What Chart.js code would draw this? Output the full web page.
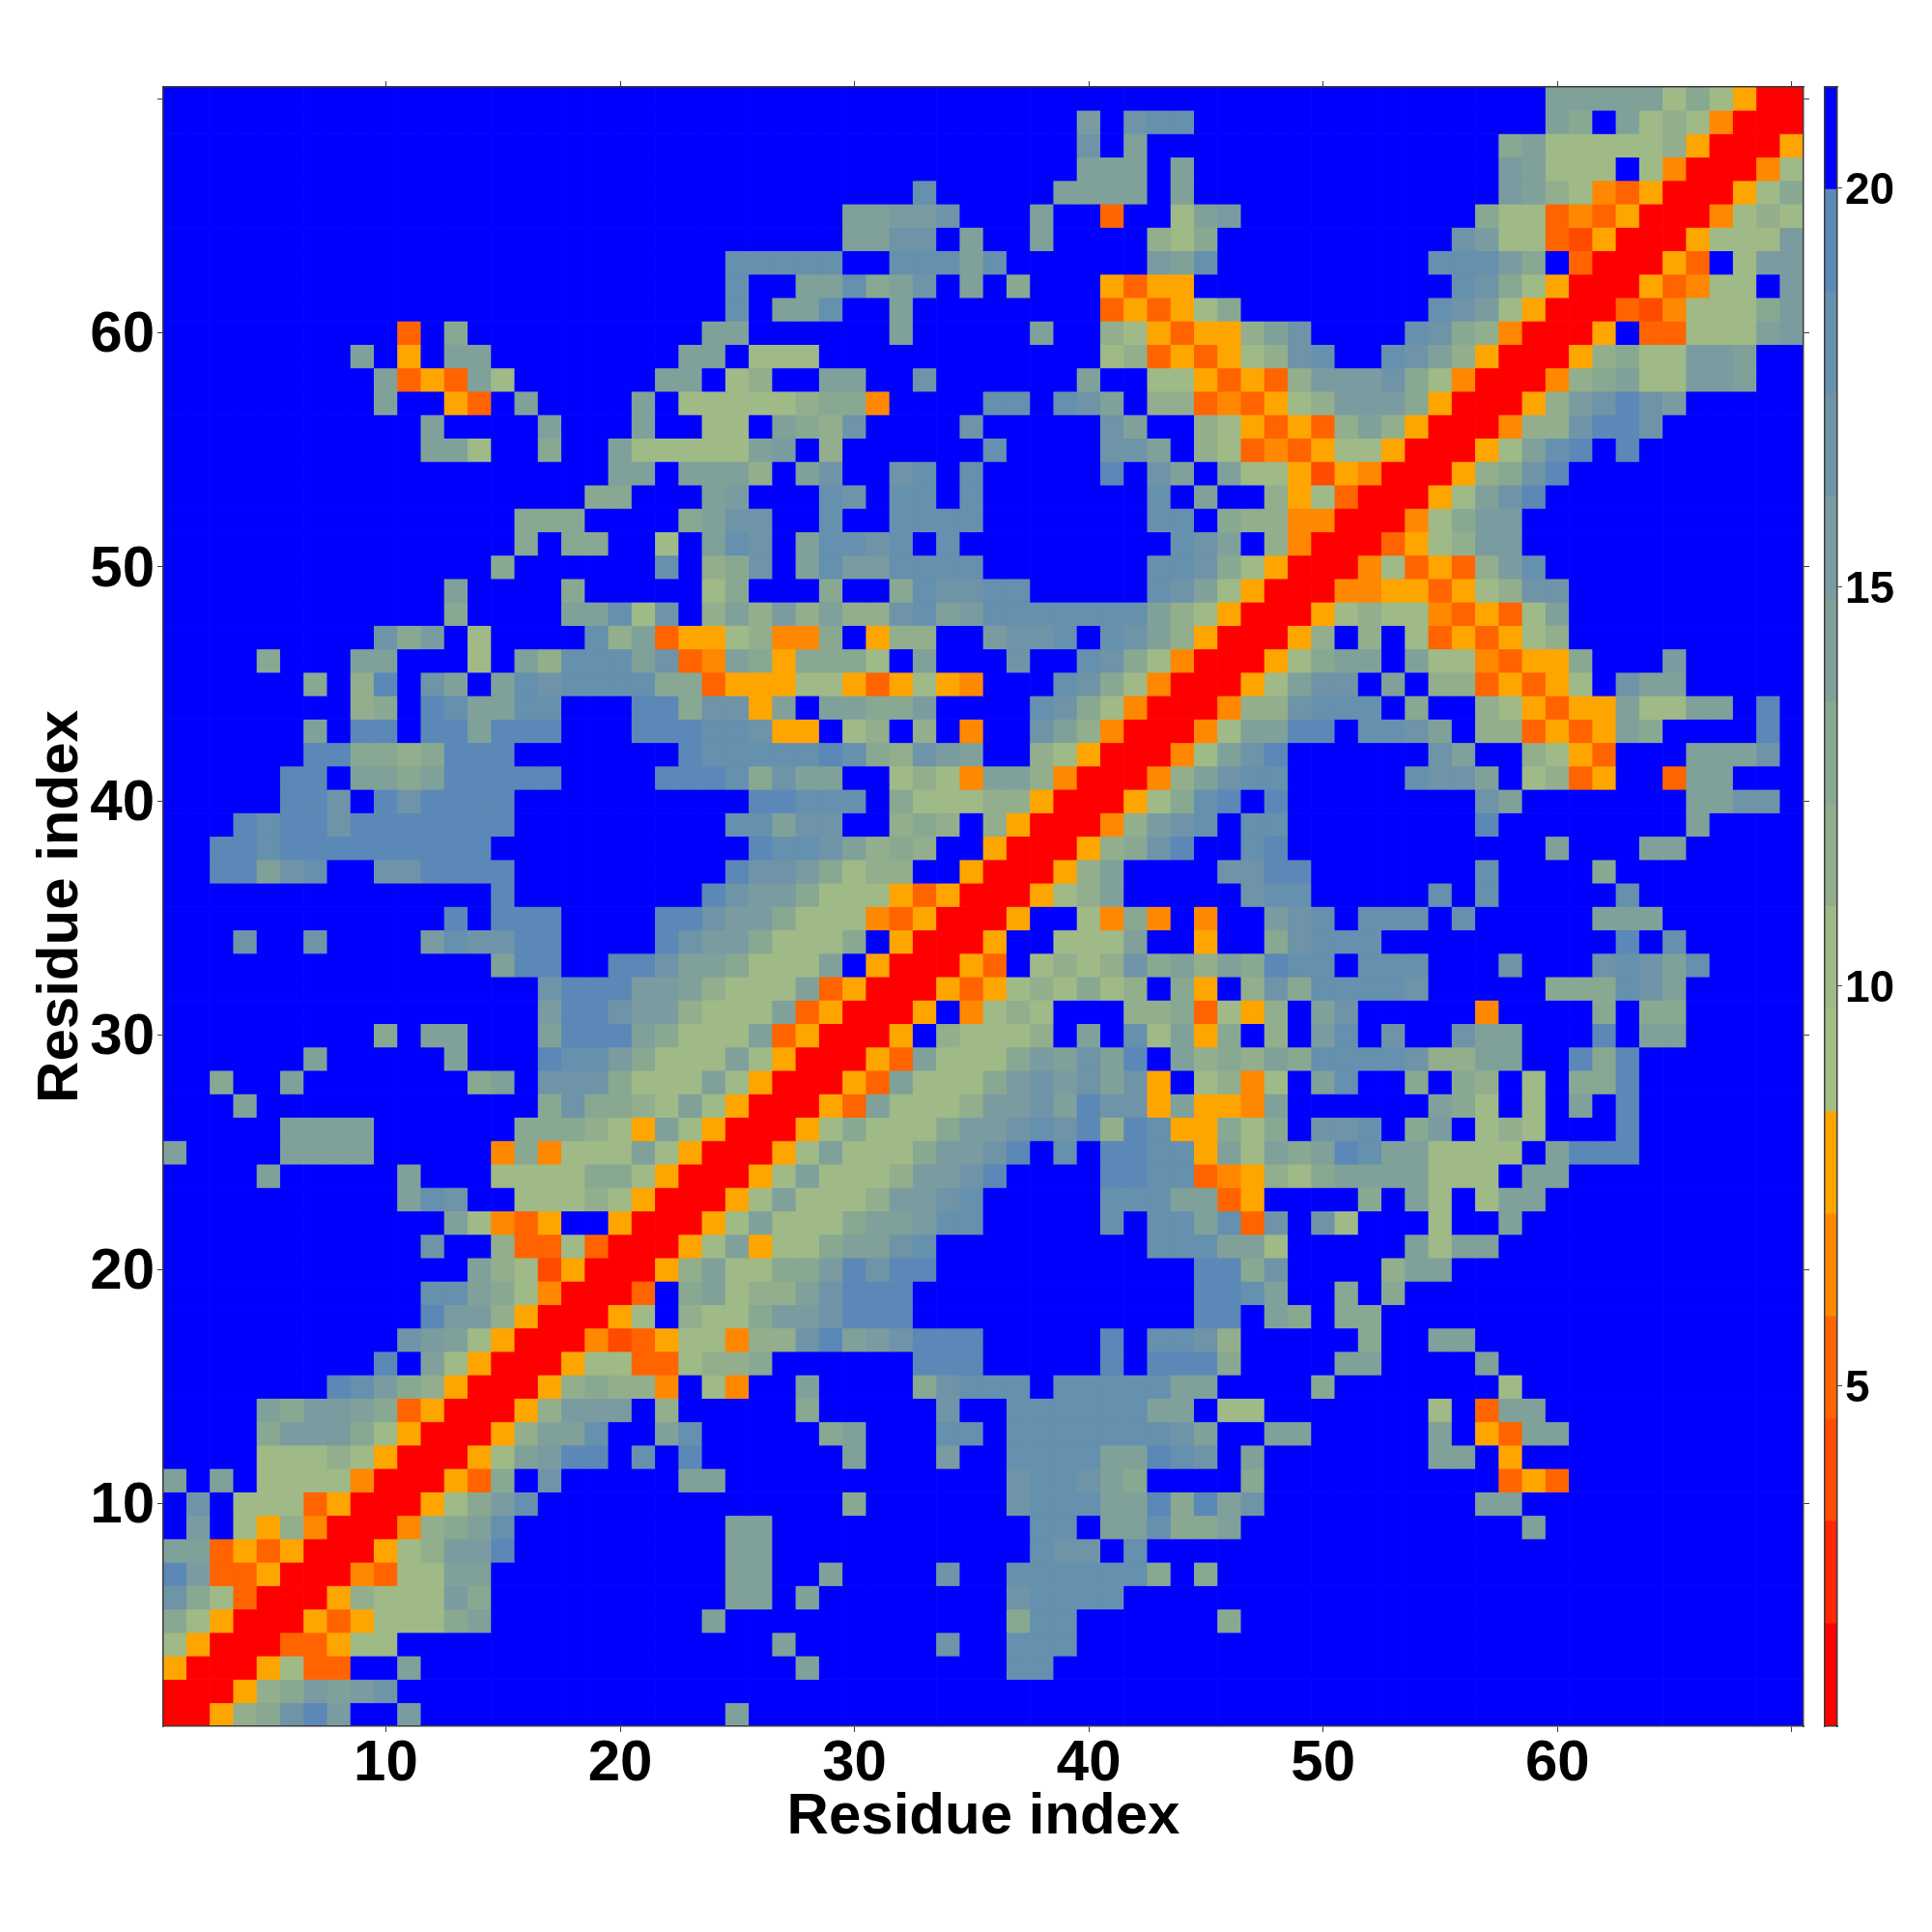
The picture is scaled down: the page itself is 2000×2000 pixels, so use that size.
<!DOCTYPE html>
<html>
<head>
<meta charset="utf-8">
<title>Residue contact map</title>
<script src="https://cdn.jsdelivr.net/npm/chart.js@4"></script>
<style>
  html, body { margin: 0; padding: 0; background: #fff; width: 2000px; height: 2000px; overflow: hidden; }
  canvas { position: absolute; top: 0; }
  #map { left: 0; }
  #bar { left: 1880px; }
</style>
</head>
<body>
<canvas id="map" width="1880" height="2000"></canvas>
<canvas id="bar" width="120" height="2000"></canvas>
<script>
// Distance band of each residue pair.
// First line is residue 70 on the y axis, last is residue 1. Blocks of ten residues.
// 0-9,a-e are colour bar bands counted from the bottom, '.' is the top (blue) band.
const contactRows = [
  '.......... .......... .......... .......... .......... .........a aaaa797500',
  '.......... .......... .......... .........b .cdd...... .........a 9.a7874000',
  '.......... .......... .......... .........c .a........ .......9a7 7777850005',
  '.......... .......... .......... .........a aa.a...... .......ba7 77.7400047',
  '.......... .......... .......... ..d.....aa aa.a...... .......ba8 7435000579',
  '.......... .......... .........a abbc...a.. 3..7ab.... ......9773 4350004787',
  '.......... .......... .........a acc.a..a.. ..879..... .....cb773 250005777b',
  '.......... .......... ....ddddd. .dddad.... ..bad..... ....dddb9. 300053.7bb',
  '.......... .......... ....d..aad 9ac.a.9... 5355...... .....dc975 00053477.b',
  '.......... .......... ....d.aad. .a........ 353579.... ....dcb750 003247779b',
  '.......... 3.9....... ...aa..... .a.....a.. 8753558ac. ...dc98400 05.33777ab',
  '........a. 5.aa...... ..aa.777.. .......... 78353578cd ..dca85000 58977bba..',
  '.........a 353a7..... .aa.78..aa ..c......a ..7753538b bbc9740004 89a77bba..',
  '.........a ..53.a.... a.77777899 4....dd.dc a.88343578 bbb9500058 bcecb.....',
  '.......... .a....a... a..77.a98c ....c..... ca..875353 8a85000488 ceec......',
  '.......... .aa7..9..a 77777ab.8. .....d.... cca.873435 77500057ad e.e.......',
  '.......... .........a a.aaa8.ac. .cd.d..... e.ca.a7752 54000589ce ..........',
  '.......... ........99 ...ab...dc .dd.d..... ..d.a..857 300057ace. ..........',
  '.......... .....999.. ..9acc..d. .dddd..... ..dd.98844 000479bb.. ..........',
  '.......... .....9.99. .7.adc.add cd.d...... ...dca.840 003578bb.. ..........',
  '.......... ....9..... .d.89c.adb bdddd..... ..ddc97500 0473538bd. ..........',
  '.......... ..a....9.. ...79...9. .9dccdd... ..dca75000 44553578cc ..........',
  '.......... ..9....aad 7c.8a8b8a8 8cdabddddd dda8750005 787743537a ..........',
  '.........c 9b.7....d8 a35578449. 588..bccd. dca8500058 .8.7353578 ..........',
  '....9...aa ...7.a8ddd ac34a95999 7.a...c..d c974000579 aa.a774355 9...b.....',
  '......9.8e .ca.adcddd d993555775 35754...dc 97400057ac c.a.883535 7.caa.....',
  '........89 .edaadd... ee9cc5a.aa 99b....dc9 74000488cd dd.9..8753 55a77aa.e.',
  '......a.ee .eeaeee... eeeddc55.7 8.8.4..ca8 400047aaee .ddca.8835 35a9....e.',
  '......ee99 89eee..... ..eddddded 98cba..875 00047ace.. ....ca..87 53...aaac.',
  '.....ee.aa 9aeeeee... .eeed9caa. .7874aa840 0048acdd.. ...dcca.78 35..3aa...',
  '.....eec.e ceeee..... .....eeddd .977788500 0579de.e.. ......ca.. .....aacc.',
  '...edeecee eeeee..... ....ddacc. .898.85000 48bcd.dd.. ......e... .....a....',
  '..eedeeeee eeee...... .....eddca 898..50005 89ce..de.. .........a ...aa.....',
  '..eeacd..c ceeee..... ....eccb97 88..500058 a....ccee. ......d... .9........',
  '.......... ....e..... ...ecbb977 7535000578 a.....cdd. ....d.d... ..d.......',
  '.......... ..e.eee... .eecbb9777 4350005..7 494.4..bcd .ddd.d.... .aaa......',
  '...c..c... .bdccee... .ecbb97779 .50005..77 7a..5..9cd dd........ ..e.d.....',
  '.......... ....aee..e ecaa9777a. 500053.787 8c9a8a9edd .ddd...c.. .cdcad....',
  '.......... ......ceee bba8777a35 0005357879 78.95.8c9d dddc.....9 99dca.....',
  '.......... ......beec bb8777a350 005.4787.. .8893758.a c.....4... .9.99.....',
  '.........9 .aa...aeee a9777a3500 05.87778.a .d7a59.8.b d.c..caa.. .e.aa.....',
  '......a... ..a...eddb 9777a75000 53a7779bac ae.a898a9d dddc88aa.. e9e.......',
  '..9..a.... ...9a.ccc9 777a750005 3a7779bcbc ac5.7847.a d..9.98.7. 99e.......',
  '...a...... ......9c99 87a7500053 a7778bbcae cc5a554a.. ....a97.7. a.e.......',
  '.....aaaa. .....99987 5a75000579 7779bbcdce 8ed55979.c cd.9b.787. ..e.......',
  'a....aaaa. ....494777 a7500057a7 779bbce.d. eedd5a7a9a edaa7777.a eee.......',
  '....a..... a...777799 7500057a77 78bbce.... eedd345879 aaaa777.aa ..........',
  '.......... adc..77787 500057a777 8bbcd..... dddaa35... .9.a7.7aa. ..........',
  '.......... ..a7435..5 00057a7779 aabdd..... d.ddad3c.c 7...7..a.. ..........',
  '.......... .c..833730 0057a5779a acd....... ..dddaa7.. ...a7aa... ..........',
  '.......... ...a872500 058a7799be cee....... ....ee9c.. ..8aa..... ..........',
  '.......... .dda974000 3.9a788ace ee........ ....eeda.. 9.9....... ..........',
  '.......... .ebb850005 7.8779bbce ee........ ....ee.a9. 99........ ..........',
  '.......... cba7500042 3577488cea bceee..... e.ddc8.... .9..aa.... ..........',
  '.........e .a75000577 337889.... ..eee..... e.eee9.... aa....a... ..........',
  '.......edb 9850005898 84.74..a.. ..9cddd.dd dddaa....9 .......7.. ..........',
  '....a9bba9 3500058bbb .8.....9.. ...c..dddd ddaa.77... ....7.3aa. ..........',
  '....9bbb97 500058aad. .ad.....9a ...dd.dddd dddca..aa. ....a.53aa ..........',
  '....777875 00057abee. d.e......a ...b..dddd aaedc.a... ....aa.5.. ..........',
  'a.a.777740 00539.c... ..aa...... ......cddc a9....9... .......353 ..........',
  '.c.7773500 0579bd.... .........9 ......cddd aae9eac... ......aa.. ..........',
  '.b.7584000 489ad..... ....aa.... .......dd. aad99a.... ........a. ..........',
  'aa35350005 78bbe..... ....aa.... .......dcc .d........ .......... ..........',
  'eb33500043 77aa...... ....aa..a. ...c..dddd dd9.9..... .......... ..........',
  'c973000587 77b9...... ....aa.a.. ......cddd d......... .......... ..........',
  '9750005357 779a...... ...a...... ......9dd. .....9.... .......... ..........',
  '7500033577 .......... ......a... ...c..ddd. .......... .......... ..........',
  '50005733.. a......... .......a.. ......dd.. .......... .......... ..........',
  '000589babc .......... .......... .......... .......... .......... ..........',
  '00589ceb.. b......... ....a..... .......... .......... .......... ..........'
];

// colour bar bands, bottom to top
const bandColors = ['#ff0000', '#ff2800', '#ff4b00', '#ff6400', '#ff8800', '#ffa500',
  '#a4bd82', '#9fb987', '#92ae8c', '#88a892', '#7fa199', '#7a9ca0',
  '#6f94a8', '#6590ae', '#5b88b6', '#0000ff'];
const bandCodes = '0123456789abcde.';
const barMin = 0.73;
const barMax = 21.26;

const tickValues = [10, 20, 30, 40, 50, 60, 70];
const hiddenLabels = [70];
const barTicks = [5, 10, 15, 20];
const axisTitle = 'Residue index';

const fontFamily = '"Liberation Sans", Arial, sans-serif';
const frameColor = '#3c3c3c';
const rowCount = contactRows.length;

function setTicks(scale, values) {
  scale.ticks = values.map(value => ({ value }));
}

// one dataset per row, each cell is a floating bar one residue high
const datasets = contactRows.map((row, i) => {
  const residue = rowCount - i;
  const bands = row.replace(/ /g, '').split('').map(c => bandCodes.indexOf(c));
  return {
    data: bands.map((b, j) => ({ x: j + 1, y: [residue - 0.5, residue + 0.5] })),
    backgroundColor: bands.map(b => bandColors[b]),
    borderWidth: 0,
    grouped: false,
    barPercentage: 1,
    categoryPercentage: 1
  };
});

function mapAxis(position, size, withLabels) {
  const horizontal = position === 'bottom' || position === 'top';
  return {
    type: 'linear',
    position,
    offset: false,
    min: 0.5,
    max: rowCount + 0.5,
    afterBuildTicks: scale => setTicks(scale, tickValues),
    afterFit: scale => {
      if (horizontal) scale.height = size; else scale.width = size;
    },
    border: { display: true, color: frameColor, width: 1.5, z: 1 },
    grid: { offset: false, drawOnChartArea: false, drawTicks: true, tickLength: 6, tickColor: frameColor, tickWidth: 1 },
    ticks: {
      display: withLabels,
      autoSkip: false,
      maxRotation: 0,
      padding: withLabels ? (horizontal ? -3 : 3) : 0,
      labelOffset: horizontal ? 0 : 3,
      color: '#000',
      font: { family: fontFamily, size: 60, weight: 'bold' },
      callback: v => (hiddenLabels.includes(v) ? '' : String(v))
    },
    title: {
      display: withLabels,
      text: axisTitle,
      color: '#000',
      font: { family: fontFamily, size: 60, weight: 'bold' },
      padding: horizontal ? { top: 0, bottom: 11 } : { top: 2, bottom: 0 }
    }
  };
}

new Chart(document.getElementById('map'), {
  type: 'bar',
  data: { datasets },
  options: {
    responsive: false,
    animation: false,
    devicePixelRatio: 1,
    layout: { padding: { top: 78, right: 1, left: 25, bottom: 72 } },
    plugins: { legend: { display: false }, tooltip: { enabled: false } },
    scales: {
      x: mapAxis('bottom', 141, true),
      y: mapAxis('left', 144, true),
      xTop: mapAxis('top', 12, false),
      yRight: mapAxis('right', 12, false)
    }
  }
});

// colour bar
const bandStep = (barMax - barMin) / bandColors.length;
const barDatasets = bandColors.map((color, b) => ({
  data: [{ x: 0, y: [barMin + b * bandStep, barMin + (b + 1) * bandStep] }],
  backgroundColor: color,
  borderWidth: 0,
  grouped: false,
  barPercentage: 1,
  categoryPercentage: 1
}));

function edgeAxis(position, fit) {
  return {
    position,
    afterFit: fit,
    border: { display: true, color: frameColor, width: 1.5, z: 1 },
    grid: { display: true, drawOnChartArea: false, drawTicks: false },
    ticks: { display: false }
  };
}

new Chart(document.getElementById('bar'), {
  type: 'bar',
  data: { datasets: barDatasets },
  options: {
    responsive: false,
    animation: false,
    devicePixelRatio: 1,
    layout: { padding: { top: 90, bottom: 213, left: 9, right: 0 } },
    plugins: { legend: { display: false }, tooltip: { enabled: false } },
    scales: {
      x: Object.assign(edgeAxis('bottom', s => { s.height = 0; }), { type: 'linear', offset: false, min: -0.5, max: 0.5 }),
      xTop: Object.assign(edgeAxis('top', s => { s.height = 0; }), { type: 'linear', offset: false, min: -0.5, max: 0.5 }),
      yLeft: Object.assign(edgeAxis('left', s => { s.width = 0; }), { type: 'linear', min: barMin, max: barMax }),
      y: {
        type: 'linear',
        position: 'right',
        min: barMin,
        max: barMax,
        afterBuildTicks: scale => setTicks(scale, barTicks),
        afterFit: scale => { scale.width = 98; },
        border: { display: true, color: frameColor, width: 1.5, z: 1 },
        grid: { drawOnChartArea: false, drawTicks: true, tickLength: 5, tickColor: frameColor, tickWidth: 1 },
        ticks: {
          autoSkip: false,
          padding: 3,
          labelOffset: 4,
          color: '#000',
          font: { family: fontFamily, size: 46, weight: 'bold' },
          callback: v => String(v)
        }
      }
    }
  }
});
</script>
</body>
</html>
